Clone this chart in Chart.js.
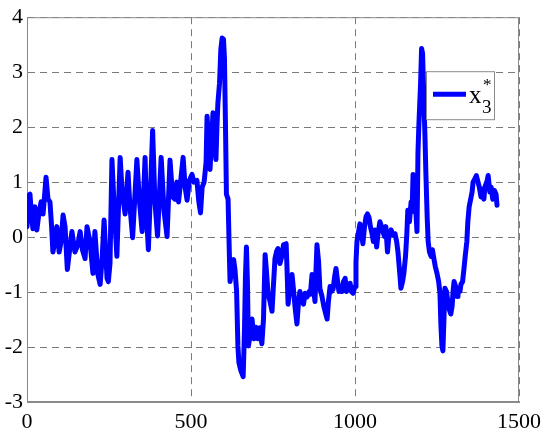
<!DOCTYPE html>
<html>
<head>
<meta charset="utf-8">
<script src="https://cdn.jsdelivr.net/npm/chart.js@4/dist/chart.umd.min.js"></script>
<style>
html,body{margin:0;padding:0;background:#fff;}
#wrap{width:550px;height:432px;}
</style>
</head>
<body>
<div id="wrap"><canvas id="c" width="550" height="432"></canvas></div>
<script>
// Sample index (x) and value (y) of the x3* series
const sampleX = [0,5,9,14,18,24,30,37,43,49,53,58,64,70,75,79,85,91,98,104,110,116,123,131,137,146,155,162,169,177,183,192,201,207,216,223,229,235,244,248,253,259,265,274,284,290,299,308,314,322,335,343,351,360,364,370,383,390,398,409,418,427,436,444,451,457,462,476,482,488,495,503,509,518,524,529,534,540,546,549,555,558,564,567,573,576,579,582,587,591,595,599,602,605,608,613,616,619,625,630,634,639,643,646,652,659,663,666,669,672,675,680,686,692,698,704,710,716,721,726,730,735,741,747,752,756,761,765,771,777,782,790,793,796,802,808,813,817,823,828,832,838,843,848,854,860,864,869,873,878,881,884,889,893,899,905,910,915,919,924,928,933,938,942,947,951,956,960,965,970,974,979,985,989,994,1000,1003,1006,1011,1015,1020,1024,1029,1034,1038,1043,1047,1052,1056,1061,1066,1070,1076,1081,1085,1090,1094,1099,1104,1110,1116,1122,1127,1131,1136,1140,1145,1149,1154,1158,1161,1166,1171,1174,1177,1181,1186,1189,1192,1195,1200,1203,1206,1209,1213,1216,1220,1223,1227,1232,1236,1241,1245,1250,1255,1259,1262,1265,1268,1271,1274,1279,1283,1287,1292,1296,1299,1302,1307,1311,1314,1320,1323,1328,1332,1336,1341,1344,1348,1352,1357,1360,1366,1370,1375,1379,1384,1387,1393,1396,1403,1406,1411,1415,1420,1425,1430,1433];
const x3Values = [0.19,0.76,0.78,0.37,0.15,0.55,0.13,0.46,0.64,0.42,0.71,1.09,0.69,0.64,0.19,-0.27,-0.08,0.19,-0.27,-0.08,0.40,0.19,-0.59,-0.18,0.10,-0.27,-0.14,0.10,-0.23,-0.39,0.19,-0.08,-0.66,0.10,-0.68,-0.86,-0.39,0.31,-0.75,-0.81,-0.48,1.41,0.64,-0.35,1.45,0.82,0.42,1.18,0.55,-0.01,1.41,0.64,0.10,1.45,0.46,-0.23,1.94,0.64,0.02,1.45,0.46,0.01,1.40,0.73,0.69,1.00,0.64,1.45,0.91,0.67,1.03,1.14,1.00,1.03,0.64,0.44,0.91,1.00,1.36,2.20,1.54,1.23,1.90,2.26,1.72,1.41,1.99,2.44,2.80,3.42,3.62,3.60,3.25,2.08,0.78,0.69,-0.08,-0.81,-0.54,-0.41,-0.59,-0.98,-1.98,-2.28,-2.43,-2.54,-1.71,-0.72,-0.18,-0.81,-1.98,-1.80,-1.49,-1.85,-1.64,-1.85,-1.65,-1.94,-1.49,-0.32,-0.62,-1.04,-1.17,-1.35,-0.81,-0.39,-0.26,-0.21,-0.48,-0.35,-0.14,-0.12,-0.62,-1.22,-0.90,-0.68,-0.99,-1.26,-1.58,-1.17,-0.99,-1.13,-1.22,-1.02,-1.09,-0.99,-1.04,-0.68,-0.90,-1.17,-0.62,-0.14,-0.45,-0.94,-1.07,-1.26,-1.38,-1.49,-1.17,-0.90,-0.99,-0.95,-0.72,-0.57,-0.81,-0.99,-0.90,-0.99,-0.81,-0.75,-0.99,-0.90,-0.84,-0.99,-1.02,-0.90,-0.45,-0.08,0.10,0.24,0.06,-0.12,0.19,0.38,0.42,0.35,0.19,0.06,-0.08,0.13,-0.18,0.06,0.28,0.19,0.10,0.01,0.19,-0.27,0.06,0.13,0.04,0.06,-0.08,-0.27,-0.62,-0.93,-0.81,-0.66,-0.35,0.06,0.49,0.28,0.64,0.46,1.14,0.73,0.42,0.10,1.54,2.08,2.80,3.43,3.34,2.71,1.90,1.18,0.37,-0.08,-0.27,-0.35,-0.23,-0.41,-0.54,-0.66,-0.81,-1.02,-1.61,-1.98,-2.07,-1.53,-0.93,-0.99,-1.17,-1.31,-1.40,-1.26,-0.99,-0.81,-0.90,-1.08,-0.95,-0.99,-0.86,-0.81,-0.59,-0.35,-0.08,0.28,0.55,0.67,0.82,1.00,1.07,1.12,1.00,0.91,0.73,0.87,0.69,0.91,1.03,1.12,0.82,0.91,0.69,0.85,0.78,0.58];
const xTicks = [0,500,1000,1500];
const yTicks = [-3,-2,-1,0,1,2,3,4];
const seriesLabel = 'x3*';

const points = sampleX.map((x,i)=>({x:x, y:x3Values[i]}));
const SERIF = "'Liberation Serif', 'Times New Roman', Times, serif";
Chart.defaults.font.family = SERIF;

const framePlugin = {
  id:'frame',
  beforeDatasetsDraw(chart){
    const {ctx, chartArea:a} = chart;
    ctx.save();
    ctx.strokeStyle = '#8a8a8a';
    ctx.lineWidth = 1;
    ctx.setLineDash([]);
    ctx.strokeRect(a.left+0.5, a.top+0.5, a.right-a.left-1, a.bottom-a.top-1);
    ctx.restore();
  }
};

const legendPlugin = {
  id:'subLegend',
  afterDraw(chart){
    const {ctx, chartArea:a} = chart;
    const bx = a.right - 93, by = a.top + 54, bw = 68, bh = 48;
    ctx.save();
    ctx.fillStyle = '#fff';
    ctx.fillRect(bx, by, bw, bh);
    ctx.strokeStyle = '#8a8a8a';
    ctx.lineWidth = 1;
    ctx.strokeRect(bx+0.5, by+0.5, bw, bh);
    ctx.strokeStyle = '#0000ff';
    ctx.lineWidth = 5;
    ctx.beginPath();
    ctx.moveTo(bx+7, by+23);
    ctx.lineTo(bx+40, by+23);
    ctx.stroke();
    ctx.fillStyle = '#000';
    ctx.textBaseline = 'alphabetic';
    ctx.font = '25px ' + SERIF;
    ctx.fillText('x', bx+43, by+32);
    ctx.font = '19px ' + SERIF;
    ctx.fillText('3', bx+56, by+42);
    ctx.font = '17px ' + SERIF;
    ctx.fillText('*', bx+57, by+19);
    ctx.restore();
  }
};

new Chart(document.getElementById('c'), {
  type:'line',
  data:{datasets:[{
    label: seriesLabel,
    data: points,
    borderColor:'#0000ff',
    backgroundColor:'#0000ff',
    borderWidth:5,
    pointRadius:0,
    tension:0,
    fill:false,
    borderJoinStyle:'round',
    borderCapStyle:'round'
  }]},
  options:{
    responsive:false,
    devicePixelRatio:1,
    animation:false,
    layout:{padding:{left:0,top:14,right:31,bottom:0}},
    plugins:{legend:{display:false},tooltip:{enabled:false}},
    scales:{
      x:{
        type:'linear', min:0, max:1500,
        afterFit(s){ s.height = 30; },
        afterBuildTicks(s){ s.ticks = xTicks.map(v=>({value:v})); },
        ticks:{color:'#000', font:{family:SERIF, size:22}, padding:7, maxRotation:0, autoSkip:false,
               callback:(v)=>String(v)},
        grid:{color:'#7a7a7a', lineWidth:1, drawTicks:false},
        border:{display:true, color:'#8a8a8a', dash:[7,5]}
      },
      y:{
        type:'linear', min:-3, max:4,
        afterFit(s){ s.width = 27; },
        afterBuildTicks(s){ s.ticks = yTicks.map(v=>({value:v})); },
        ticks:{color:'#000', font:{family:SERIF, size:22}, padding:4, callback:(v)=>String(v)},
        grid:{color:'#7a7a7a', lineWidth:1, drawTicks:false},
        border:{display:true, color:'#8a8a8a', dash:[7,5]}
      }
    }
  },
  plugins:[framePlugin, legendPlugin]
});
</script>
</body>
</html>
